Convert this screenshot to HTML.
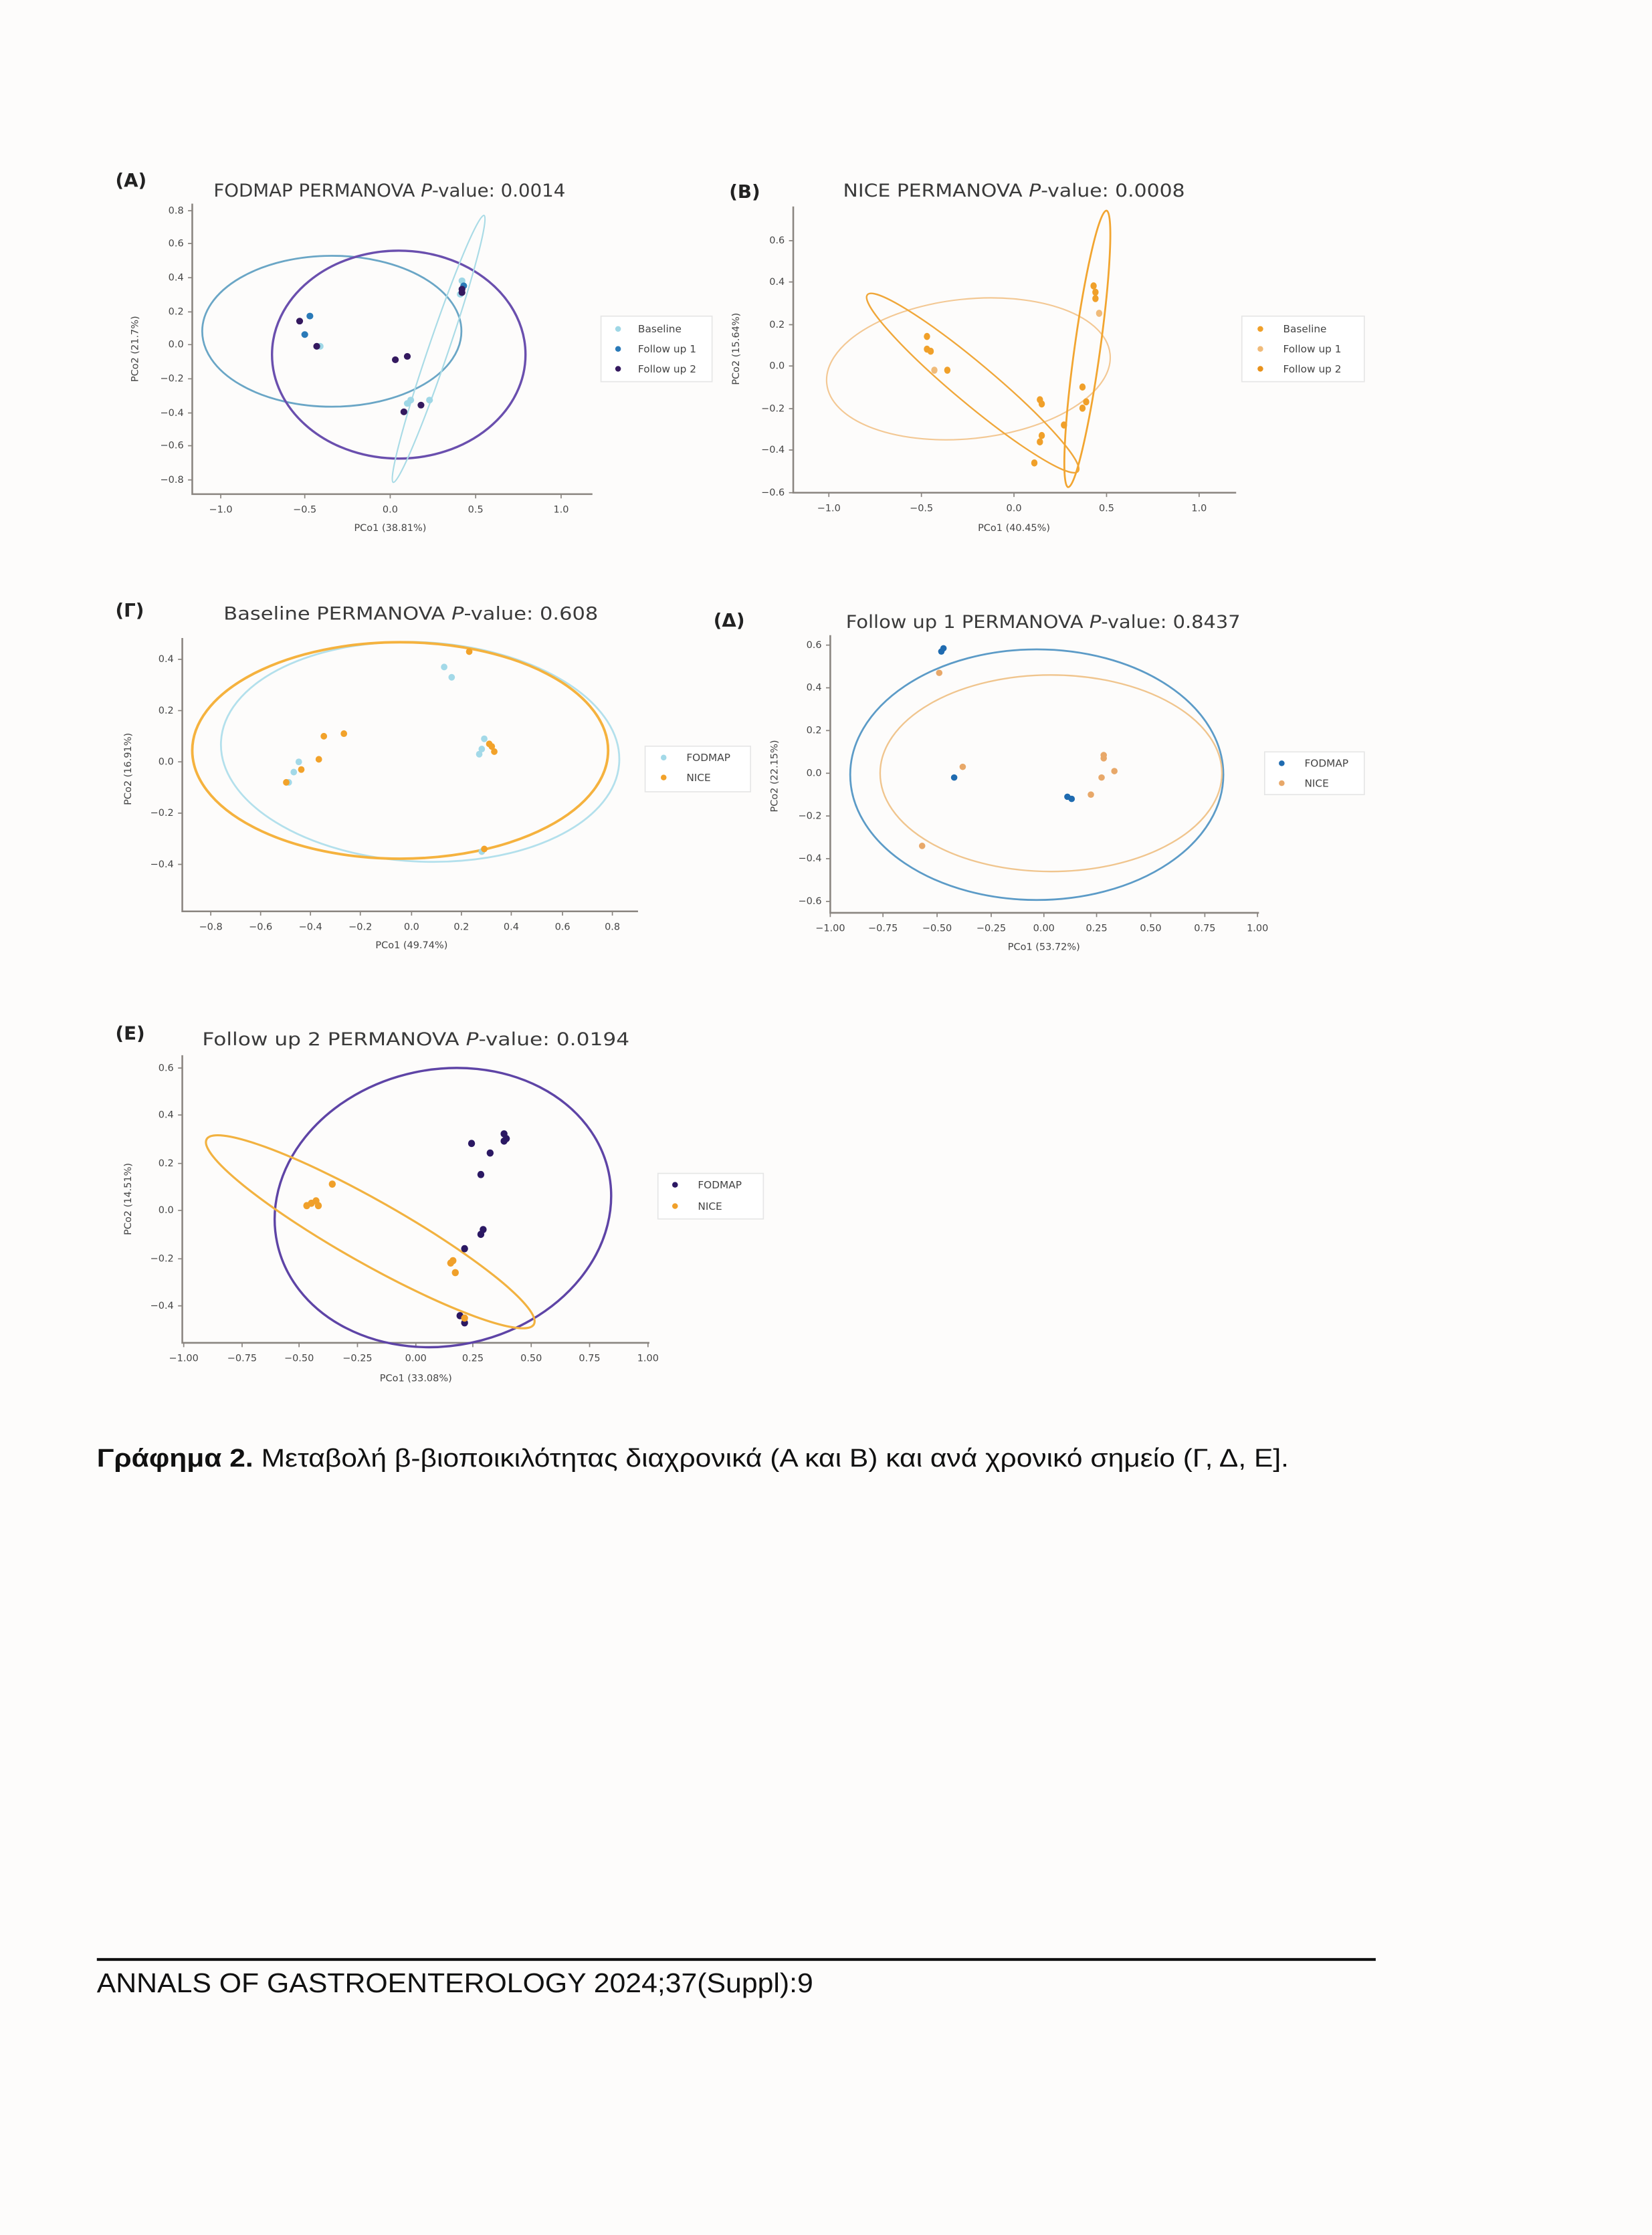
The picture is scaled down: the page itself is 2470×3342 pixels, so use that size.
<!DOCTYPE html>
<html><head><meta charset="utf-8"><style>
html,body{margin:0;padding:0;background:#fdfcfb;}
svg{display:block;}
text{font-family:"DejaVu Sans","Liberation Sans",sans-serif;fill:#444;}
.t{font-size:6.8px;}
.ti{font-size:12.5px;fill:#3a3a3a;}
.pl{font-size:13px;font-weight:bold;fill:#222;}
.lg{font-size:7.2px;}
.ax{stroke:#8a8580;stroke-width:1.2;fill:none;}
.tk{stroke:#8a8580;stroke-width:0.8;}
.cap{font-family:"Liberation Sans","DejaVu Sans",sans-serif;fill:#111;}
</style></head><body>
<svg width="2470" height="3342" viewBox="0 0 1160 1569.5" xmlns="http://www.w3.org/2000/svg">
<rect width="1160" height="1570" fill="#fdfcfb"/>

<!-- ===== Panel A ===== -->
<text class="pl" x="81" y="131">(A)</text>
<text class="ti" x="150" y="138" textLength="247" lengthAdjust="spacingAndGlyphs">FODMAP PERMANOVA <tspan font-style="italic">P</tspan>-value: 0.0014</text>
<path class="ax" d="M135,143 V347 H416"/>
<g class="tk"><path d="M155,347v3M214,347v3M274,347v3M334,347v3M394,347v3M135,148h-3M135,171h-3M135,195h-3M135,219h-3M135,242h-3M135,266h-3M135,290h-3M135,313h-3M135,337h-3"/></g>
<g class="t" text-anchor="middle"><text x="155" y="360">−1.0</text><text x="214" y="360">−0.5</text><text x="274" y="360">0.0</text><text x="334" y="360">0.5</text><text x="394" y="360">1.0</text></g>
<g class="t" text-anchor="end"><text x="129" y="150">0.8</text><text x="129" y="173">0.6</text><text x="129" y="197">0.4</text><text x="129" y="221">0.2</text><text x="129" y="244">0.0</text><text x="129" y="268">−0.2</text><text x="129" y="292">−0.4</text><text x="129" y="315">−0.6</text><text x="129" y="339">−0.8</text></g>
<text class="t" x="274" y="373" text-anchor="middle">PCo1 (38.81%)</text>
<text class="t" transform="translate(97,245) rotate(-90)" text-anchor="middle">PCo2 (21.7%)</text>
<ellipse cx="233" cy="232.6" rx="91" ry="53" fill="none" stroke="#6aa6c6" stroke-width="1.3"/>
<ellipse cx="280" cy="249" rx="89" ry="73" fill="none" stroke="#6a4fae" stroke-width="1.6"/>
<ellipse cx="0" cy="0" rx="7" ry="99" fill="none" stroke="#a9dbe6" stroke-width="1" transform="translate(308,245) rotate(18.8)"/>
<g transform="translate(274,242) scale(120,-118)">
<g fill="#9fd7e6"><circle cx="0.42" cy="0.38" r="0.02"/><circle cx="0.42" cy="0.33" r="0.02"/><circle cx="0.41" cy="0.30" r="0.02"/><circle cx="0.12" cy="-0.33" r="0.02"/><circle cx="0.23" cy="-0.33" r="0.02"/><circle cx="-0.41" cy="-0.01" r="0.02"/><circle cx="0.10" cy="-0.35" r="0.02"/></g>
<g fill="#2a7ab8"><circle cx="-0.47" cy="0.17" r="0.02"/><circle cx="-0.50" cy="0.06" r="0.02"/><circle cx="0.43" cy="0.35" r="0.02"/></g>
<g fill="#34195f"><circle cx="-0.53" cy="0.14" r="0.02"/><circle cx="-0.43" cy="-0.01" r="0.02"/><circle cx="0.03" cy="-0.09" r="0.02"/><circle cx="0.10" cy="-0.07" r="0.02"/><circle cx="0.08" cy="-0.40" r="0.02"/><circle cx="0.18" cy="-0.36" r="0.02"/><circle cx="0.42" cy="0.31" r="0.02"/><circle cx="0.42" cy="0.33" r="0.02"/></g>
</g>
<rect x="422" y="222" width="78" height="46" fill="#fff" stroke="#e6e6e6" stroke-width="0.8"/>
<circle cx="434" cy="231" r="2" fill="#9fd7e6"/><text class="lg" x="448" y="233.5">Baseline</text>
<circle cx="434" cy="245" r="2" fill="#2a7ab8"/><text class="lg" x="448" y="247.5">Follow up 1</text>
<circle cx="434" cy="259" r="2" fill="#34195f"/><text class="lg" x="448" y="261.5">Follow up 2</text>

<!-- ===== Panel B ===== -->
<text class="pl" x="512" y="139">(B)</text>
<text class="ti" x="592" y="138" textLength="240" lengthAdjust="spacingAndGlyphs">NICE PERMANOVA <tspan font-style="italic">P</tspan>-value: 0.0008</text>
<path class="ax" d="M557,145 V346 H868"/>
<g class="tk"><path d="M582,346v3M647,346v3M712,346v3M777,346v3M842,346v3M557,169h-3M557,198h-3M557,228h-3M557,257h-3M557,287h-3M557,316h-3M557,346h-3"/></g>
<g class="t" text-anchor="middle"><text x="582" y="359">−1.0</text><text x="647" y="359">−0.5</text><text x="712" y="359">0.0</text><text x="777" y="359">0.5</text><text x="842" y="359">1.0</text></g>
<g class="t" text-anchor="end"><text x="551" y="171">0.6</text><text x="551" y="200">0.4</text><text x="551" y="230">0.2</text><text x="551" y="259">0.0</text><text x="551" y="289">−0.2</text><text x="551" y="318">−0.4</text><text x="551" y="348">−0.6</text></g>
<text class="t" x="712" y="373" text-anchor="middle">PCo1 (40.45%)</text>
<text class="t" transform="translate(519,245) rotate(-90)" text-anchor="middle">PCo2 (15.64%)</text>
<ellipse cx="680" cy="259" rx="100" ry="49" fill="none" stroke="#f3c894" stroke-width="1" transform="rotate(-6 680 259)"/>
<ellipse cx="0" cy="0" rx="96.5" ry="14" fill="none" stroke="#f0a73a" stroke-width="1.1" transform="translate(683,269) rotate(40)"/>
<ellipse cx="0" cy="0" rx="9" ry="98" fill="none" stroke="#f2a530" stroke-width="1.3" transform="translate(763.5,245) rotate(7.9)"/>
<g transform="translate(712,257) scale(130,-148)">
<g fill="#f0a02a"><circle cx="-0.47" cy="0.14" r="0.017"/><circle cx="-0.45" cy="0.07" r="0.017"/><circle cx="-0.47" cy="0.08" r="0.017"/><circle cx="-0.36" cy="-0.02" r="0.017"/><circle cx="0.43" cy="0.38" r="0.017"/><circle cx="0.44" cy="0.35" r="0.017"/><circle cx="0.44" cy="0.32" r="0.017"/><circle cx="0.37" cy="-0.10" r="0.017"/><circle cx="0.39" cy="-0.17" r="0.017"/><circle cx="0.37" cy="-0.20" r="0.017"/><circle cx="0.14" cy="-0.16" r="0.017"/><circle cx="0.15" cy="-0.18" r="0.017"/><circle cx="0.15" cy="-0.33" r="0.017"/><circle cx="0.14" cy="-0.36" r="0.017"/><circle cx="0.27" cy="-0.28" r="0.017"/><circle cx="0.11" cy="-0.46" r="0.017"/></g>
<g fill="#f0bb7a"><circle cx="-0.43" cy="-0.02" r="0.017"/><circle cx="0.46" cy="0.25" r="0.017"/></g>
</g>
<rect x="872" y="222" width="86" height="46" fill="#fff" stroke="#e6e6e6" stroke-width="0.8"/>
<circle cx="885" cy="231" r="2" fill="#f0a02a"/><text class="lg" x="901" y="233.5">Baseline</text>
<circle cx="885" cy="245" r="2" fill="#f0bb7a"/><text class="lg" x="901" y="247.5">Follow up 1</text>
<circle cx="885" cy="259" r="2" fill="#e8921c"/><text class="lg" x="901" y="261.5">Follow up 2</text>

<!-- ===== Panel Γ ===== -->
<text class="pl" x="81" y="433">(Γ)</text>
<text class="ti" x="157" y="435" textLength="263" lengthAdjust="spacingAndGlyphs">Baseline PERMANOVA <tspan font-style="italic">P</tspan>-value: 0.608</text>
<path class="ax" d="M128,448 V640 H448"/>
<g class="tk"><path d="M148,640v3M183,640v3M218,640v3M253,640v3M289,640v3M324,640v3M359,640v3M395,640v3M430,640v3M128,463h-3M128,499h-3M128,535h-3M128,571h-3M128,607h-3"/></g>
<g class="t" text-anchor="middle"><text x="148" y="653">−0.8</text><text x="183" y="653">−0.6</text><text x="218" y="653">−0.4</text><text x="253" y="653">−0.2</text><text x="289" y="653">0.0</text><text x="324" y="653">0.2</text><text x="359" y="653">0.4</text><text x="395" y="653">0.6</text><text x="430" y="653">0.8</text></g>
<g class="t" text-anchor="end"><text x="122" y="465">0.4</text><text x="122" y="501">0.2</text><text x="122" y="537">0.0</text><text x="122" y="573">−0.2</text><text x="122" y="609">−0.4</text></g>
<text class="t" x="289" y="666" text-anchor="middle">PCo1 (49.74%)</text>
<text class="t" transform="translate(92,540) rotate(-90)" text-anchor="middle">PCo2 (16.91%)</text>
<ellipse cx="295" cy="528" rx="140" ry="77" fill="none" stroke="#b3e0ec" stroke-width="1.3" transform="rotate(3 295 528)"/>
<ellipse cx="281" cy="527" rx="146" ry="76" fill="none" stroke="#f5b23e" stroke-width="1.8"/>
<g transform="translate(289,535) scale(176,-180)">
<g fill="#a3d9e8"><circle cx="0.13" cy="0.37" r="0.013"/><circle cx="0.16" cy="0.33" r="0.013"/><circle cx="0.29" cy="0.09" r="0.013"/><circle cx="0.28" cy="0.05" r="0.013"/><circle cx="0.27" cy="0.03" r="0.013"/><circle cx="-0.45" cy="0.00" r="0.013"/><circle cx="-0.47" cy="-0.04" r="0.013"/><circle cx="-0.49" cy="-0.08" r="0.013"/><circle cx="0.28" cy="-0.35" r="0.013"/></g>
<g fill="#f2a22a"><circle cx="0.23" cy="0.43" r="0.013"/><circle cx="-0.27" cy="0.11" r="0.013"/><circle cx="-0.35" cy="0.10" r="0.013"/><circle cx="-0.37" cy="0.01" r="0.013"/><circle cx="-0.44" cy="-0.03" r="0.013"/><circle cx="-0.50" cy="-0.08" r="0.013"/><circle cx="0.32" cy="0.06" r="0.013"/><circle cx="0.33" cy="0.04" r="0.013"/><circle cx="0.31" cy="0.07" r="0.013"/><circle cx="0.29" cy="-0.34" r="0.013"/></g>
</g>
<rect x="453" y="524" width="74" height="32" fill="#fff" stroke="#e6e6e6" stroke-width="0.8"/>
<circle cx="466" cy="532" r="2" fill="#a3d9e8"/><text class="lg" x="482" y="534.5">FODMAP</text>
<circle cx="466" cy="546" r="2" fill="#f2a22a"/><text class="lg" x="482" y="548.5">NICE</text>

<!-- ===== Panel Δ ===== -->
<text class="pl" x="501" y="440">(Δ)</text>
<text class="ti" x="594" y="441" textLength="277" lengthAdjust="spacingAndGlyphs">Follow up 1 PERMANOVA <tspan font-style="italic">P</tspan>-value: 0.8437</text>
<path class="ax" d="M583,446 V641 H884"/>
<g class="tk"><path d="M583,641v3M620,641v3M658,641v3M696,641v3M733,641v3M770,641v3M808,641v3M846,641v3M883,641v3M583,453h-3M583,483h-3M583,513h-3M583,543h-3M583,573h-3M583,603h-3M583,633h-3"/></g>
<g class="t" text-anchor="middle"><text x="583" y="654">−1.00</text><text x="620" y="654">−0.75</text><text x="658" y="654">−0.50</text><text x="696" y="654">−0.25</text><text x="733" y="654">0.00</text><text x="770" y="654">0.25</text><text x="808" y="654">0.50</text><text x="846" y="654">0.75</text><text x="883" y="654">1.00</text></g>
<g class="t" text-anchor="end"><text x="577" y="455">0.6</text><text x="577" y="485">0.4</text><text x="577" y="515">0.2</text><text x="577" y="545">0.0</text><text x="577" y="575">−0.2</text><text x="577" y="605">−0.4</text><text x="577" y="635">−0.6</text></g>
<text class="t" x="733" y="667" text-anchor="middle">PCo1 (53.72%)</text>
<text class="t" transform="translate(546,545) rotate(-90)" text-anchor="middle">PCo2 (22.15%)</text>
<ellipse cx="728" cy="544" rx="131" ry="88" fill="none" stroke="#5c9bc7" stroke-width="1.3"/>
<ellipse cx="738" cy="543" rx="120" ry="69" fill="none" stroke="#f0c58e" stroke-width="1.1"/>
<g transform="translate(733,543) scale(150,-150)">
<g fill="#1f6bb0"><circle cx="-0.47" cy="0.585" r="0.015"/><circle cx="-0.48" cy="0.57" r="0.015"/><circle cx="-0.42" cy="-0.02" r="0.015"/><circle cx="0.11" cy="-0.11" r="0.015"/><circle cx="0.13" cy="-0.12" r="0.015"/></g>
<g fill="#e8a869"><circle cx="-0.49" cy="0.47" r="0.015"/><circle cx="-0.38" cy="0.03" r="0.015"/><circle cx="0.28" cy="0.07" r="0.015"/><circle cx="0.28" cy="0.085" r="0.015"/><circle cx="0.33" cy="0.01" r="0.015"/><circle cx="0.27" cy="-0.02" r="0.015"/><circle cx="0.22" cy="-0.10" r="0.015"/><circle cx="-0.57" cy="-0.34" r="0.015"/></g>
</g>
<rect x="888" y="528" width="70" height="30" fill="#fff" stroke="#e6e6e6" stroke-width="0.8"/>
<circle cx="900" cy="536" r="2" fill="#1f6bb0"/><text class="lg" x="916" y="538.5">FODMAP</text>
<circle cx="900" cy="550" r="2" fill="#e8a869"/><text class="lg" x="916" y="552.5">NICE</text>

<!-- ===== Panel E ===== -->
<text class="pl" x="81" y="730">(E)</text>
<text class="ti" x="142" y="734" textLength="300" lengthAdjust="spacingAndGlyphs">Follow up 2 PERMANOVA <tspan font-style="italic">P</tspan>-value: 0.0194</text>
<path class="ax" d="M128,741 V943 H456"/>
<g class="tk"><path d="M129,943v3M170,943v3M210,943v3M251,943v3M292,943v3M332,943v3M373,943v3M414,943v3M455,943v3M128,750h-3M128,783h-3M128,817h-3M128,850h-3M128,884h-3M128,917h-3"/></g>
<g class="t" text-anchor="middle"><text x="129" y="956">−1.00</text><text x="170" y="956">−0.75</text><text x="210" y="956">−0.50</text><text x="251" y="956">−0.25</text><text x="292" y="956">0.00</text><text x="332" y="956">0.25</text><text x="373" y="956">0.50</text><text x="414" y="956">0.75</text><text x="455" y="956">1.00</text></g>
<g class="t" text-anchor="end"><text x="122" y="752">0.6</text><text x="122" y="785">0.4</text><text x="122" y="819">0.2</text><text x="122" y="852">0.0</text><text x="122" y="886">−0.2</text><text x="122" y="919">−0.4</text></g>
<text class="t" x="292" y="970" text-anchor="middle">PCo1 (33.08%)</text>
<text class="t" transform="translate(92,842) rotate(-90)" text-anchor="middle">PCo2 (14.51%)</text>
<ellipse cx="311" cy="848" rx="119" ry="97" fill="none" stroke="#5e44a6" stroke-width="1.6" transform="rotate(-12 311 848)"/>
<ellipse cx="0" cy="0" rx="132" ry="22" fill="none" stroke="#f2b240" stroke-width="1.5" transform="translate(260,865) rotate(29.5)"/>
<g transform="translate(292,850) scale(163,-168)">
<g fill="#2b1863"><circle cx="0.38" cy="0.32" r="0.015"/><circle cx="0.39" cy="0.30" r="0.015"/><circle cx="0.38" cy="0.29" r="0.015"/><circle cx="0.32" cy="0.24" r="0.015"/><circle cx="0.24" cy="0.28" r="0.015"/><circle cx="0.28" cy="0.15" r="0.015"/><circle cx="0.29" cy="-0.08" r="0.015"/><circle cx="0.28" cy="-0.10" r="0.015"/><circle cx="0.21" cy="-0.16" r="0.015"/><circle cx="0.19" cy="-0.44" r="0.015"/><circle cx="0.21" cy="-0.47" r="0.015"/></g>
<g fill="#f0a02a"><circle cx="-0.36" cy="0.11" r="0.015"/><circle cx="-0.45" cy="0.03" r="0.015"/><circle cx="-0.43" cy="0.04" r="0.015"/><circle cx="-0.47" cy="0.02" r="0.015"/><circle cx="-0.42" cy="0.02" r="0.015"/><circle cx="0.16" cy="-0.21" r="0.015"/><circle cx="0.15" cy="-0.22" r="0.015"/><circle cx="0.17" cy="-0.26" r="0.015"/><circle cx="0.21" cy="-0.45" r="0.015"/></g>
</g>
<rect x="462" y="824" width="74" height="32" fill="#fff" stroke="#e6e6e6" stroke-width="0.8"/>
<circle cx="474" cy="832" r="2" fill="#2b1863"/><text class="lg" x="490" y="834.5">FODMAP</text>
<circle cx="474" cy="847" r="2" fill="#f0a02a"/><text class="lg" x="490" y="849.5">NICE</text>

<!-- Caption -->
<text class="cap" x="68" y="1030" font-size="18" textLength="837" lengthAdjust="spacingAndGlyphs"><tspan font-weight="bold">Γράφημα 2.</tspan> Μεταβολή β-βιοποικιλότητας διαχρονικά (Α και Β) και ανά χρονικό σημείο (Γ, Δ, Ε].</text>

<!-- Footer -->
<line x1="68" y1="1376" x2="966" y2="1376" stroke="#111" stroke-width="2"/>
<text class="cap" x="68" y="1399" font-size="19" textLength="503" lengthAdjust="spacingAndGlyphs">ANNALS OF GASTROENTEROLOGY 2024;37(Suppl):9</text>
</svg>
</body></html>
